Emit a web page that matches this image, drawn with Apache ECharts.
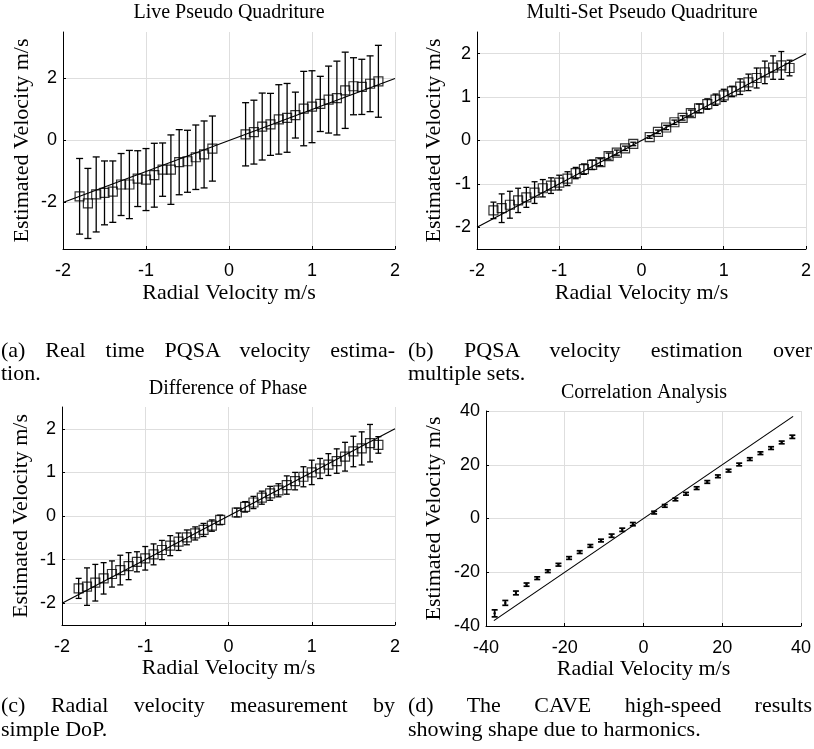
<!DOCTYPE html>
<html>
<head>
<meta charset="utf-8">
<script src="https://cdn.jsdelivr.net/npm/echarts@6/dist/echarts.min.js"></script>
<style>
  html, body { margin: 0; padding: 0; background: #fff; }
  #wrap { position: relative; width: 814px; height: 749px; overflow: hidden; }
  #chart { position: absolute; left: 0; top: 0; width: 814px; height: 749px; }
  .cap { position: absolute; font-family: 'Liberation Serif', 'Times New Roman', serif; font-size: 22px; line-height: 24px; color: #000; white-space: nowrap; }
  .j { text-align: justify; text-align-last: justify; }
</style>
</head>
<body>
<div id="wrap">
  <div id="chart"></div>
  <div class="cap j" style="left:1px; top:338px; width:394px;">(a) Real time PQSA velocity estima-</div>
  <div class="cap" style="left:1px; top:361px;">tion.</div>
  <div class="cap j" style="left:408px; top:338px; width:404px;">(b) PQSA velocity estimation over</div>
  <div class="cap" style="left:408px; top:361px;">multiple sets.</div>
  <div class="cap j" style="left:1px; top:693px; width:394px;">(c) Radial velocity measurement by</div>
  <div class="cap" style="left:1px; top:717px;">simple DoP.</div>
  <div class="cap j" style="left:408px; top:693px; width:404px;">(d) The CAVE high-speed results</div>
  <div class="cap" style="left:408px; top:717px;">showing shape due to harmonics.</div>
</div>
<script>
// ---------------- data ----------------
const titles = ['Live Pseudo Quadriture', 'Multi-Set Pseudo Quadriture', 'Difference of Phase', 'Correlation Analysis'];
const xName = 'Radial Velocity m/s';
const yName = 'Estimated Velocity m/s';

// (a) Live Pseudo Quadriture
const aX = [-1.8,-1.7,-1.6,-1.5,-1.4,-1.3,-1.2,-1.1,-1.0,-0.9,-0.8,-0.7,-0.6,-0.5,-0.4,-0.3,-0.2,
            0.2,0.3,0.4,0.5,0.6,0.7,0.8,0.9,1.0,1.1,1.2,1.3,1.4,1.5,1.6,1.7,1.8];
const aY = [-1.80,-2.03,-1.74,-1.69,-1.65,-1.42,-1.42,-1.23,-1.26,-1.12,-0.94,-0.94,-0.70,-0.67,-0.54,-0.45,-0.26,
            0.20,0.27,0.45,0.52,0.68,0.73,0.82,1.03,1.09,1.18,1.32,1.37,1.62,1.75,1.73,1.83,1.91];
const aErr = [1.22,1.13,1.21,1.03,0.99,1.00,1.10,0.90,1.00,1.03,0.86,1.12,1.05,1.00,1.04,1.08,1.05,
              1.02,1.03,1.08,1.00,1.12,1.11,0.74,1.20,1.16,0.89,1.08,1.19,1.23,0.92,0.89,0.90,1.16];

// (b) Multi-Set Pseudo Quadriture
const bX = [-1.8,-1.7,-1.6,-1.5,-1.4,-1.3,-1.2,-1.1,-1.0,-0.9,-0.8,-0.7,-0.6,-0.5,-0.4,-0.3,-0.2,-0.1,
            0.1,0.2,0.3,0.4,0.5,0.6,0.7,0.8,0.9,1.0,1.1,1.2,1.3,1.4,1.5,1.6,1.7,1.8];
const bY = [-1.61,-1.56,-1.48,-1.38,-1.31,-1.20,-1.10,-1.04,-0.97,-0.88,-0.75,-0.66,-0.56,-0.50,-0.36,-0.28,-0.18,-0.08,
            0.08,0.20,0.30,0.42,0.52,0.63,0.74,0.84,0.94,1.04,1.13,1.24,1.34,1.44,1.57,1.68,1.73,1.67];
const bErr = [0.19,0.33,0.31,0.28,0.23,0.25,0.20,0.18,0.17,0.16,0.13,0.12,0.11,0.08,0.07,0.06,0.05,0.04,
              0.03,0.04,0.05,0.05,0.05,0.07,0.10,0.12,0.13,0.14,0.12,0.18,0.19,0.23,0.26,0.27,0.32,0.18];

// (c) Difference of Phase
const cX = [-1.8,-1.7,-1.6,-1.5,-1.4,-1.3,-1.2,-1.1,-1.0,-0.9,-0.8,-0.7,-0.6,-0.5,-0.4,-0.3,-0.2,-0.1,
            0.1,0.2,0.3,0.4,0.5,0.6,0.7,0.8,0.9,1.0,1.1,1.2,1.3,1.4,1.5,1.6,1.7,1.8];
const cY = [-1.66,-1.62,-1.53,-1.43,-1.33,-1.24,-1.15,-1.05,-0.97,-0.88,-0.78,-0.68,-0.59,-0.49,-0.40,-0.32,-0.22,-0.09,
            0.08,0.21,0.31,0.42,0.52,0.59,0.71,0.80,0.90,1.00,1.09,1.18,1.26,1.36,1.48,1.55,1.67,1.63];
const cErr = [0.23,0.43,0.42,0.36,0.30,0.34,0.31,0.23,0.27,0.24,0.22,0.23,0.20,0.17,0.15,0.15,0.13,0.11,
              0.10,0.12,0.14,0.15,0.16,0.15,0.21,0.20,0.23,0.28,0.23,0.25,0.28,0.33,0.35,0.38,0.43,0.19];

// (d) Correlation Analysis
const dX = [-37.8,-35.1,-32.4,-29.7,-27.0,-24.3,-21.6,-18.9,-16.2,-13.5,-10.8,-8.1,-5.4,-2.7,
            2.7,5.4,8.1,10.8,13.5,16.2,18.9,21.6,24.3,27.0,29.7,32.4,35.1,37.8];
const dY = [-35.3,-31.4,-27.7,-24.6,-22.2,-19.6,-17.2,-14.7,-12.5,-10.2,-8.2,-6.4,-4.2,-2.1,
            2.2,4.7,7.1,9.2,11.3,13.6,15.7,17.8,20.1,22.1,24.3,26.2,28.3,30.4];
const dErr = [1.3,0.9,0.7,0.6,0.5,0.5,0.5,0.5,0.5,0.5,0.5,0.6,0.6,0.6,
              0.5,0.5,0.5,0.5,0.5,0.5,0.5,0.5,0.5,0.5,0.5,0.5,0.5,0.6];

// reference (ideal) lines y = x
const refABC_x = [-2, 2], refABC_y = [-2, 2];
const refD_x = [-38, 38], refD_y = [-38, 38];

// tick labels
const ticksA_y = [-2, 0, 2];
const ticksBC_y = [-2, -1, 0, 1, 2];

// ---------------- chart ----------------
const SERIF = "'Liberation Serif', 'Times New Roman', serif";
const SANS = "'Liberation Sans', Arial, sans-serif";
const GRID = '#dedede';

const zip3 = (x, y, e) => x.map((v, i) => [v, y[i], e[i]]);
const zip2 = (x, y) => x.map((v, i) => [v, y[i]]);

function errRender(capHalf, lw) {
  return function (params, api) {
    const x = api.value(0), y = api.value(1), e = api.value(2);
    const t = api.coord([x, y + e]), b = api.coord([x, y - e]);
    const st = { stroke: '#000', lineWidth: lw };
    return {
      type: 'group',
      children: [
        { type: 'line', shape: { x1: t[0], y1: t[1], x2: b[0], y2: b[1] }, style: st },
        { type: 'line', shape: { x1: t[0] - capHalf, y1: t[1], x2: t[0] + capHalf, y2: t[1] }, style: st },
        { type: 'line', shape: { x1: b[0] - capHalf, y1: b[1], x2: b[0] + capHalf, y2: b[1] }, style: st }
      ]
    };
  };
}

function xAxis(idx, min, max, interval, gap) {
  return {
    gridIndex: idx, type: 'value', min, max, interval,
    name: xName, nameLocation: 'middle', nameGap: gap,
    nameTextStyle: { fontFamily: SERIF, fontSize: 22, color: '#000' },
    axisLine: { show: true, onZero: false, lineStyle: { color: '#000', width: 1 } },
    axisTick: { show: true, inside: true, length: 3, lineStyle: { color: '#000' } },
    axisLabel: { fontFamily: SANS, fontSize: 18, color: '#000', margin: 13, showMinLabel: true, showMaxLabel: true },
    splitLine: { show: true, lineStyle: { color: GRID, width: 1 } }
  };
}
function yAxis(idx, min, max, custom, interval, gap) {
  const ax = {
    gridIndex: idx, type: 'value', min, max,
    name: yName, nameLocation: 'middle', nameGap: gap,
    nameTextStyle: { fontFamily: SERIF, fontSize: 22, color: '#000' },
    axisLine: { show: true, onZero: false, lineStyle: { color: '#000', width: 1 } },
    axisTick: { show: true, inside: true, length: 3, lineStyle: { color: '#000' } },
    axisLabel: { fontFamily: SANS, fontSize: 18, color: '#000', margin: 6 },
    splitLine: { show: true, lineStyle: { color: GRID, width: 1 } }
  };
  if (custom) {
    ax.axisTick.customValues = custom;
    ax.axisLabel.customValues = custom;
  } else {
    ax.interval = interval;
  }
  return ax;
}

const grids = [
  { left: 63, top: 32, width: 332, height: 217 },
  { left: 477, top: 32, width: 331, height: 217 },
  { left: 62, top: 407, width: 333, height: 218 },
  { left: 486, top: 411, width: 318, height: 215 }
];

function squares(idx, x, y) {
  return {
    type: 'scatter', xAxisIndex: idx, yAxisIndex: idx, data: zip2(x, y),
    symbol: 'rect', symbolSize: 9, silent: true, z: 4,
    itemStyle: { color: 'rgba(0,0,0,0)', borderColor: '#000', borderWidth: 1.2 }
  };
}
function errs(idx, x, y, e, cap, lw) {
  return {
    type: 'custom', xAxisIndex: idx, yAxisIndex: idx, data: zip3(x, y, e),
    renderItem: errRender(cap, lw), silent: true, z: 3
  };
}
function ref(idx, x, y) {
  return {
    type: 'line', xAxisIndex: idx, yAxisIndex: idx, data: zip2(x, y),
    symbol: 'none', silent: true, z: 5, lineStyle: { color: '#000', width: 1.2 }
  };
}

const chart = echarts.init(document.getElementById('chart'), null, { renderer: 'canvas' });
chart.setOption({
  animation: false,
  backgroundColor: '#fff',
  grid: grids,
  xAxis: [
    xAxis(0, -2, 2, 1, 33),
    xAxis(1, -2, 2, 1, 33),
    xAxis(2, -2, 2, 1, 32),
    xAxis(3, -40, 40, 20, 29)
  ],
  yAxis: [
    yAxis(0, -3.5, 3.5, ticksA_y, null, 30),
    yAxis(1, -2.5, 2.5, ticksBC_y, null, 32),
    yAxis(2, -2.5, 2.5, ticksBC_y, null, 30),
    yAxis(3, -40, 40, null, 20, 41)
  ],
  graphic: [
    { type: 'text', x: 229, y: 13, style: { text: titles[0], font: "20px 'Liberation Serif'", fill: '#000', align: 'center', verticalAlign: 'middle' } },
    { type: 'text', x: 642, y: 13, style: { text: titles[1], font: "20px 'Liberation Serif'", fill: '#000', align: 'center', verticalAlign: 'middle' } },
    { type: 'text', x: 228, y: 389, style: { text: titles[2], font: "20px 'Liberation Serif'", fill: '#000', align: 'center', verticalAlign: 'middle' } },
    { type: 'text', x: 644, y: 393, style: { text: titles[3], font: "20px 'Liberation Serif'", fill: '#000', align: 'center', verticalAlign: 'middle' } }
  ],
  series: [
    errs(0, aX, aY, aErr, 3.5, 1.3), squares(0, aX, aY), ref(0, refABC_x, refABC_y),
    errs(1, bX, bY, bErr, 3, 1.3), squares(1, bX, bY), ref(1, refABC_x, refABC_y),
    errs(2, cX, cY, cErr, 3, 1.3), squares(2, cX, cY), ref(2, refABC_x, refABC_y),
    errs(3, dX, dY, dErr, 3, 1.7),
    {
      type: 'scatter', xAxisIndex: 3, yAxisIndex: 3, data: zip2(dX, dY),
      symbol: 'circle', symbolSize: 2.5, silent: true, z: 4, itemStyle: { color: '#000' }
    },
    ref(3, refD_x, refD_y)
  ]
});
</script>
</body>
</html>
